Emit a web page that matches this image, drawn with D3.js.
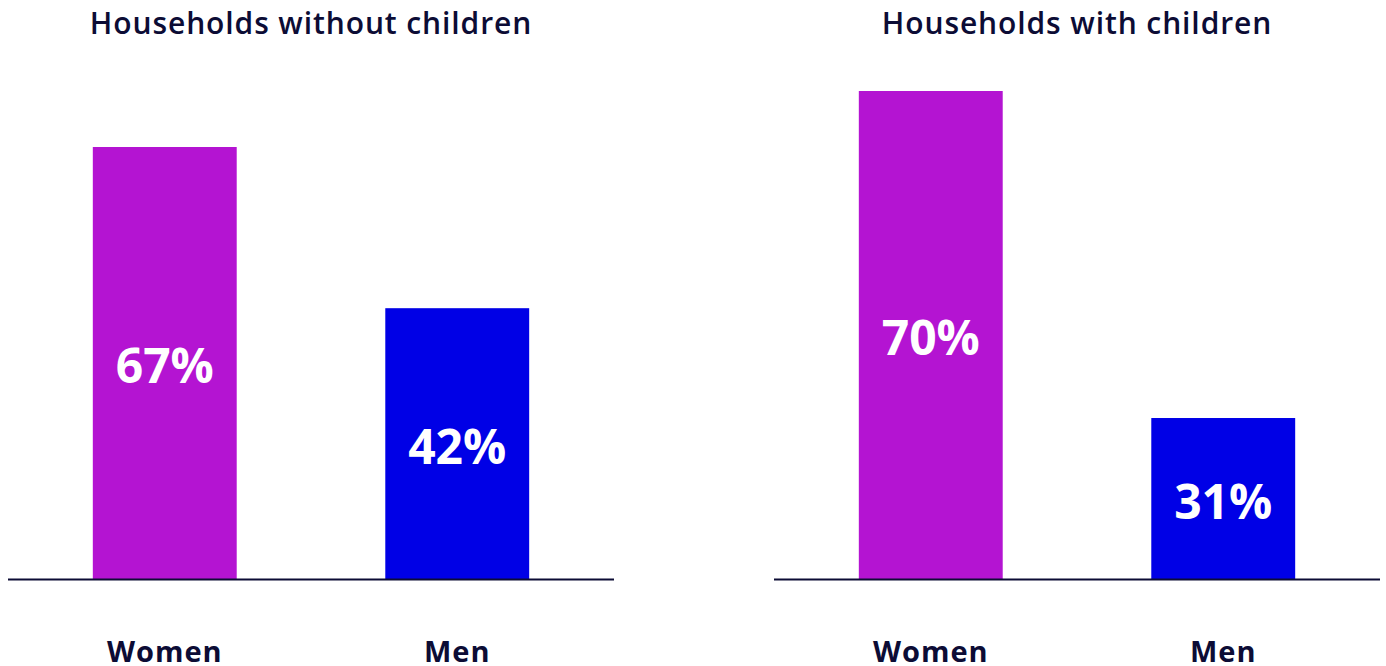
<!DOCTYPE html>
<html lang="en">
<head>
<meta charset="utf-8">
<title>Households chart</title>
<script src="https://cdn.jsdelivr.net/npm/d3@7"></script>
<style>
  body { margin: 0; background: #fff; }
  text { font-family: "Open Sans", Lato, sans-serif; }
</style>
</head>
<body>
<div id="chart"></div>
<script>
// data
let panelTitles = ["Households without children", "Households with children"]
let categories = ["Women", "Men"]
let withoutChildren = [67, 42]
let withChildren = [70, 31]
// value range each panel's bars were drawn against
let withoutDomain = [0, 67]
let withDomain = [11.8, 70]

let w = 1386
let h = 666
let baseY = 579
let ink = "#0c0c35"
let colors = ["#b414d2", "#0000e6"]

let panels = [
  { title: panelTitles[0], values: withoutChildren, domain: withoutDomain, x0: 8, x1: 614, top: 147 },
  { title: panelTitles[1], values: withChildren, domain: withDomain, x0: 774, x1: 1380, top: 91 }
]

let svg = d3.select("#chart")
            .append("svg")
            .attr("width", w)
            .attr("height", h)

panels.forEach(function(p) {
  let g = svg.append("g")

  let xScale = d3.scaleBand()
                 .domain(categories)
                 .range([p.x0, p.x1])
                 .paddingInner(0.508)
                 .paddingOuter(0.29)

  let yScale = d3.scaleLinear()
                 .domain([p.domain[0], d3.max(p.values)])
                 .range([baseY, p.top])

  let rows = categories.map(function(c, i) { return { cat: c, val: p.values[i], i: i } })

  g.selectAll("rect")
   .data(rows)
   .enter()
   .append("rect")
   .attr("x", function(d) { return xScale(d.cat) })
   .attr("y", function(d) { return yScale(d.val) })
   .attr("width", xScale.bandwidth())
   .attr("height", function(d) { return baseY - yScale(d.val) })
   .attr("fill", function(d) { return colors[d.i] })

  g.selectAll(".val")
   .data(rows)
   .enter()
   .append("text")
   .attr("class", "val")
   .attr("x", function(d) { return xScale(d.cat) + xScale.bandwidth() / 2 })
   .attr("y", function(d) { return (yScale(d.val) + baseY) / 2 })
   .attr("dy", "0.42em")
   .attr("text-anchor", "middle")
   .attr("fill", "#fff")
   .attr("font-size", 48)
   .attr("font-weight", 700)
   .text(function(d) { return d.val + "%" })

  // baseline
  g.append("line")
   .attr("x1", p.x0)
   .attr("x2", p.x1)
   .attr("y1", baseY + 0.5)
   .attr("y2", baseY + 0.5)
   .attr("stroke", ink)
   .attr("stroke-width", 2)

  let xAxis = d3.axisBottom(xScale).tickSize(0).tickPadding(0)
  let ax = g.append("g")
            .attr("transform", "translate(0," + (baseY + 62) + ")")
            .call(xAxis)
  ax.select(".domain").remove()
  ax.selectAll("text")
    .attr("font-size", 29)
    .attr("font-weight", 700)
    .attr("letter-spacing", "1px")
    .attr("fill", ink)
    .attr("dy", "0.71em")
    .style("font-family", "'Open Sans', Lato, sans-serif")

  g.append("text")
   .attr("x", (p.x0 + p.x1) / 2)
   .attr("y", 34)
   .attr("text-anchor", "middle")
   .attr("fill", ink)
   .attr("font-size", 30)
   .attr("font-weight", 600)
   .attr("letter-spacing", "0.9px")
   .text(p.title)
})
</script>
</body>
</html>
